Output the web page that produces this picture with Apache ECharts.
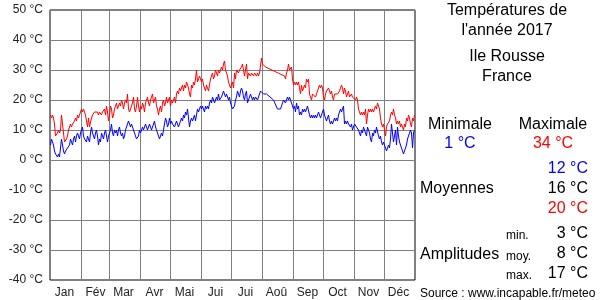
<!DOCTYPE html>
<html><head><meta charset="utf-8">
<script src="https://cdn.jsdelivr.net/npm/echarts@6/dist/echarts.min.js"></script>
<style>html,body{margin:0;padding:0;background:#fff}#c{width:600px;height:300px}</style>
</head><body><div id="c"></div>
<script>
// ---- data ----
const monthNames = ['Jan','Fév','Mar','Avr','Mai','Jui','Jui','Aoû','Sep','Oct','Nov','Déc'];
const monthDays = [31,28,31,30,31,30,31,31,30,31,30,31];
const yMin = -40, yMax = 50, yStep = 10;

// daily maximum temperatures (°C), one row per month; null = missing day
const dailyMax = [
  15,14,15,14,12,8,8,9,10,9,10,15,12,9,6,6,7,8,10,11,12,11,12,12,13,14,13,15,14,15,16,
  17,16,17,17,15,13,11,14,11,11,14,15,15,16,16,16,16,15,16,16,15,16,16,17,15,18,16,13,
  15,18,17,14,15,17,18,19,17,18,19,18,20,19,17,19,20,19,22,17,16,17,18,19,21,17,16,18,21,18,16,
  18,17,19,18,16,19,20,21,19,18,20,21,22,19,20,21,18,17,15,17,18,16,19,20,18,19,21,19,20,21,
  18,20,19,20,21,19,22,23,22,24,23,24,25,23,25,24,26,25,24,22,21,25,24,26,25,27,30,26,27,28,27,
  26,27,25,24,23,25,24,23,25,27,28,29,27,28,30,29,28,30,29,30,31,30,32,33,30,29,28,26,25,24,
  25,26,24,29,27,30,30,29,30,30,31,32,30,28,30,32,27,29,29,28,29,29,28,29,29,28,29,28,29,29,34,
  32,32,32,31,31,null,null,null,null,null,null,null,null,null,null,null,null,null,null,null,null,null,28,27,29,30,32,30,30,31,27,
  25,26,25,26,25,26,24,22,25,23,24,25,24,27,26,27,22,21,20,22,22,22,21,22,23,24,25,24,25,24,
  21,20,22,23,23,24,23,22,23,21,20,22,22,22,22,22,23,24,25,24,22,24,23,21,22,23,21,21,22,21,21,
  21,20,21,20,17,16,15,16,15,16,15,17,12,15,17,16,17,16,17,16,17,18,17,19,19,17,14,12,11,12,
  10,8,11,12,12,13,15,16,15,17,15,14,12,13,12,13,11,12,11,10,12,11,14,13,15,14,12,11,14,13,15
];
// daily minimum temperatures (°C)
const dailyMin = [
  5,7,6,5,3,2,2,1,2,1,4,7,5,3,2,3,3,4,4,5,7,6,5,7,8,6,8,9,8,7,9,
  9,11,8,7,7,6,8,7,6,9,11,9,8,7,9,10,8,5,7,6,9,8,7,9,10,8,6,8,
  9,10,12,9,8,10,9,10,8,10,11,9,8,9,7,8,10,11,12,13,12,11,12,11,10,9,8,7,7,8,10,
  9,10,11,10,11,12,11,10,11,12,11,10,11,12,13,11,10,9,8,7,8,9,8,10,12,14,13,11,12,14,
  12,13,12,12,11,12,13,12,11,11,13,14,13,15,14,16,15,17,14,11,13,14,13,14,15,13,15,17,16,17,18,
  17,18,17,16,18,17,18,17,19,20,19,21,20,19,20,21,20,22,20,20,21,22,23,22,21,22,21,20,21,19,
  19,17,17,18,20,21,23,22,21,23,24,23,21,20,22,23,19,20,21,22,21,20,21,20,21,21,20,21,22,23,23,
  23,22,22,22,22,null,null,null,null,null,null,20,null,null,null,17,null,null,17,null,null,20,20,19,20,21,20,21,20,20,20,
  17,18,16,19,17,18,15,16,15,17,16,17,16,17,18,18,15,14,15,14,15,14,15,14,15,16,15,14,15,16,
  17,15,14,13,14,15,13,12,13,12,13,14,13,14,13,15,16,17,16,17,18,12,13,12,13,12,12,11,12,10,11,
  12,12,11,11,10,9,8,10,9,11,10,9,8,11,10,9,7,6,9,8,10,9,11,11,8,7,8,6,5,6,
  5,4,3,4,5,4,7,12,9,6,8,10,5,11,8,6,5,4,3,2,3,4,5,7,8,9,10,9,4,9,10
];

const titleLines = ["Températures de", "l'année 2017"];
const placeLines = ["Ile Rousse", "France"];
const extremeLabels = ["Minimale", "Maximale"];
const extremeValues = ["1 °C", "34 °C"];
const meanLabel = "Moyennes";
const meanValues = ["12 °C", "16 °C", "20 °C"];
const amplitudeLabel = "Amplitudes";
const amplitudeKinds = ["min.", "moy.", "max."];
const amplitudeValues = ["3 °C", "8 °C", "17 °C"];
const sourceText = "Source : www.incapable.fr/meteo";

// ---- build ----
const monthStarts = [];
const labelIdx = {};
let acc = 0;
monthDays.forEach((d, m) => { monthStarts.push(acc); labelIdx[acc + 14] = monthNames[m]; acc += d; });
const days = [];
for (let i = 0; i < acc; i++) days.push(String(i));

const FONT = 'Liberation Sans, Arial, sans-serif';
function txt(text, x, y, align, size, color) {
  return { type: 'text', x: x, y: y, silent: true,
    style: { text: text, textAlign: align, textVerticalAlign: 'middle',
      font: size + 'px ' + FONT, fill: color || '#000' } };
}
const BLUE = '#0000ff', RED = '#ff0000';
const graphics = [
  txt(titleLines[0], 507, 11, 'center', 16),
  txt(titleLines[1], 507, 31, 'center', 16),
  txt(placeLines[0], 507, 57, 'center', 16),
  txt(placeLines[1], 507, 77, 'center', 16),
  txt(extremeLabels[0], 460, 125, 'center', 16),
  txt(extremeLabels[1], 553, 125, 'center', 16),
  txt(extremeValues[0], 460, 144, 'center', 16, BLUE),
  txt(extremeValues[1], 553, 144, 'center', 16, RED),
  txt(meanValues[0], 588, 169, 'right', 16, BLUE),
  txt(meanLabel, 420, 189, 'left', 16),
  txt(meanValues[1], 588, 189, 'right', 16),
  txt(meanValues[2], 588, 209, 'right', 16, RED),
  txt(amplitudeLabel, 420, 255, 'left', 16),
  txt(amplitudeKinds[0], 506, 236, 'left', 12),
  txt(amplitudeKinds[1], 506, 257, 'left', 12),
  txt(amplitudeKinds[2], 506, 276, 'left', 12),
  txt(amplitudeValues[0], 588, 234, 'right', 16),
  txt(amplitudeValues[1], 588, 254, 'right', 16),
  txt(amplitudeValues[2], 588, 274, 'right', 16),
  txt(sourceText, 420, 294, 'left', 12)
];

const chart = echarts.init(document.getElementById('c'), null, { renderer: 'canvas' });
chart.setOption({
  animation: false,
  backgroundColor: '#fff',
  grid: { left: 50, top: 10, width: 365, height: 270, show: true, borderColor: '#000', borderWidth: 1, backgroundColor: 'transparent' },
  xAxis: {
    type: 'category', data: days, boundaryGap: true,
    axisLine: { show: false }, axisTick: { show: false },
    axisLabel: { interval: (i) => labelIdx[i] !== undefined, formatter: (v, i) => labelIdx[i] || '',
      color: '#222', fontSize: 12, fontFamily: FONT, margin: 7 },
    splitLine: { show: true, interval: (i) => monthStarts.indexOf(i) > 0, lineStyle: { color: '#808080', width: 1 } }
  },
  yAxis: {
    type: 'value', min: yMin, max: yMax, interval: yStep,
    axisLine: { show: false }, axisTick: { show: false },
    axisLabel: { formatter: '{value} °C', color: '#222', fontSize: 12, fontFamily: FONT, margin: 7 },
    splitLine: { show: true, lineStyle: { color: '#808080', width: 1 } }
  },
  series: [
    { type: 'line', data: dailyMax, showSymbol: false, connectNulls: true, lineStyle: { color: RED, width: 1 }, itemStyle: { color: RED }, z: 3 },
    { type: 'line', data: dailyMin, showSymbol: false, connectNulls: true, lineStyle: { color: BLUE, width: 1 }, itemStyle: { color: BLUE }, z: 3 }
  ],
  graphic: graphics
});
</script></body></html>
